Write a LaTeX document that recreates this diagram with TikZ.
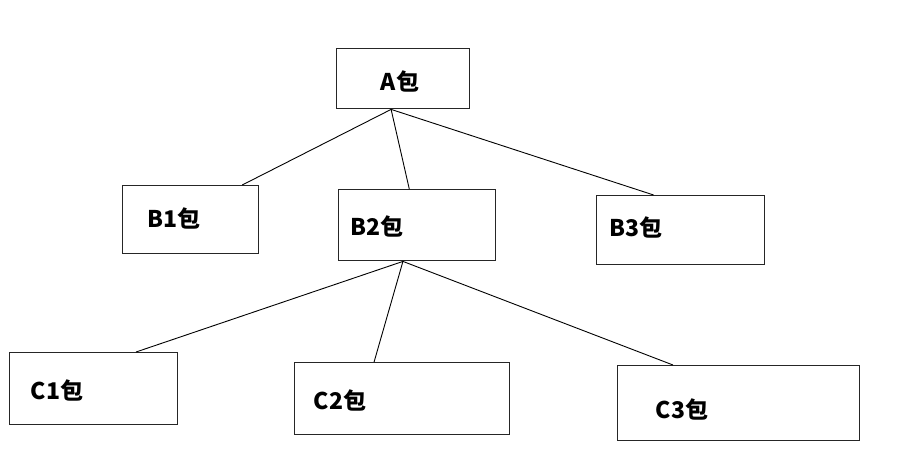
\documentclass[tikz,border=0pt]{standalone}
\usepackage{fontspec}
\setmainfont{Noto Sans CJK SC}[BoldFont={* Black}]
\usetikzlibrary{calc}
\tikzset{
  pkg/.style={draw=black!85, line width=1.4pt, rectangle, inner sep=0pt, anchor=north west},
  pkglabel/.style={font=\bfseries\fontsize{23}{23}\selectfont, inner sep=0pt, text=black},
  link/.style={draw=black, line width=0.9pt}
}
\begin{document}
\begin{tikzpicture}[x=1pt, y=-1pt]
  \useasboundingbox (0,0) rectangle (910,457);
  % package boxes (top-left corner, size)
  \node[pkg, minimum width=133pt, minimum height=60pt] (A)  at (336,48)  {};
  \node[pkg, minimum width=136pt, minimum height=68pt] (B1) at (122,185) {};
  \node[pkg, minimum width=157pt, minimum height=71pt] (B2) at (338,189) {};
  \node[pkg, minimum width=168pt, minimum height=69pt] (B3) at (596,195) {};
  \node[pkg, minimum width=168pt, minimum height=72pt] (C1) at (9,352)   {};
  \node[pkg, minimum width=215pt, minimum height=72pt] (C2) at (294,362) {};
  \node[pkg, minimum width=242pt, minimum height=75pt] (C3) at (617,365) {};
  % labels
  \node[pkglabel] (tA)  at (400,81)  {A包};
  \node[pkglabel] (tB1) at (174,218) {B1包};
  \node[pkglabel] (tB2) at (377,226) {B2包};
  \node[pkglabel] (tB3) at (636,227) {B3包};
  \node[pkglabel] (tC1) at (57,390)  {C1包};
  \node[pkglabel] (tC2) at (340,400) {C2包};
  \node[pkglabel] (tC3) at (682,409) {C3包};
  % connectors
  \draw[link] ($(A.south west)!0.41!(A.south east)$) -- ($(B1.north west)!0.875!(B1.north east)$);
  \draw[link] ($(A.south west)!0.41!(A.south east)$) -- ($(B2.north west)!0.45!(B2.north east)$);
  \draw[link] ($(A.south west)!0.41!(A.south east)$) -- ($(B3.north west)!0.34!(B3.north east)$);
  \draw[link] ($(B2.south west)!0.41!(B2.south east)$) -- ($(C1.north west)!0.75!(C1.north east)$);
  \draw[link] ($(B2.south west)!0.41!(B2.south east)$) -- ($(C2.north west)!0.37!(C2.north east)$);
  \draw[link] ($(B2.south west)!0.41!(B2.south east)$) -- ($(C3.north west)!0.23!(C3.north east)$);
\end{tikzpicture}
\end{document}
